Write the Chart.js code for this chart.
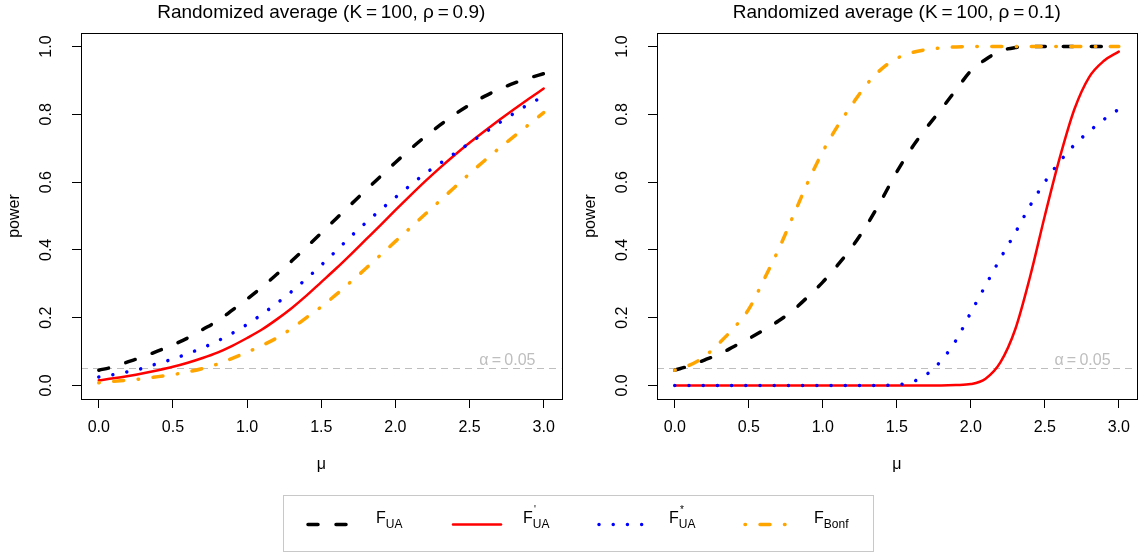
<!DOCTYPE html>
<html>
<head>
<meta charset="utf-8">
<script src="https://cdn.jsdelivr.net/npm/chart.js@4.4.0/dist/chart.umd.min.js"></script>
<style>
  body { margin: 0; width: 1140px; height: 554px; background: #fff; position: relative; overflow: hidden;
         font-family: "Liberation Sans", Arial, sans-serif; }
  canvas.plot { position: absolute; top: 0; }
  #legend { position: absolute; left: 283px; top: 495px; width: 591px; height: 57px;
            border: 1px solid #c8c8c8; box-sizing: border-box; }
  #legendKeys { position: absolute; left: 0; top: 0; }
  .lab { position: absolute; top: 13px; font-size: 16px; color: #000; white-space: nowrap; }
  .lab .sub { font-size: 12px; position: relative; top: 5px; }
  .lab .sup { font-size: 10px; position: absolute; top: -5px; left: 11px; }
</style>
</head>
<body>
<canvas id="left" class="plot" width="570" height="480" style="left:0"></canvas>
<canvas id="right" class="plot" width="564" height="480" style="left:576px"></canvas>
<div id="legend">
  <canvas id="legendKeys" width="591" height="57"></canvas>
  <div class="lab" style="left:92px">F<span class="sub">UA</span></div>
  <div class="lab" style="left:239px">F<span class="sup">'</span><span class="sub">UA</span></div>
  <div class="lab" style="left:385px">F<span class="sup">*</span><span class="sub">UA</span></div>
  <div class="lab" style="left:530px">F<span class="sub">Bonf</span></div>
</div>
<script>
// mu grid shared by every curve
const mu = [0, 0.1, 0.2, 0.3, 0.4, 0.5, 0.6, 0.7, 0.8, 0.9, 1.0, 1.1, 1.2, 1.3, 1.4, 1.5,
            1.6, 1.7, 1.8, 1.9, 2.0, 2.1, 2.2, 2.3, 2.4, 2.5, 2.6, 2.7, 2.8, 2.9, 3.0];
const xTicks = [0, 0.5, 1, 1.5, 2, 2.5, 3];
const yTicks = [0, 0.2, 0.4, 0.6, 0.8, 1];
const alphaLevel = 0.05;

// rho = 0.9
const uaHi      = [0.045, 0.055, 0.07, 0.085, 0.102, 0.12, 0.14, 0.165, 0.19, 0.222, 0.255, 0.29, 0.328, 0.367, 0.408, 0.45,
                   0.492, 0.534, 0.576, 0.617, 0.658, 0.697, 0.734, 0.768, 0.8, 0.828, 0.853, 0.874, 0.892, 0.907, 0.92];
const uaPrimeHi = [0.015, 0.021, 0.028, 0.036, 0.045, 0.055, 0.067, 0.081, 0.097, 0.117, 0.14, 0.165, 0.195, 0.228, 0.265, 0.305,
                   0.345, 0.387, 0.43, 0.473, 0.517, 0.56, 0.602, 0.642, 0.68, 0.716, 0.75, 0.783, 0.815, 0.846, 0.876];
const uaStarHi  = [0.025, 0.032, 0.041, 0.051, 0.065, 0.078, 0.094, 0.111, 0.131, 0.154, 0.18, 0.21, 0.242, 0.277, 0.315, 0.355,
                   0.397, 0.44, 0.48, 0.518, 0.555, 0.59, 0.625, 0.655, 0.685, 0.715, 0.745, 0.775, 0.803, 0.83, 0.853];
const bonfHi    = [0.008, 0.012, 0.016, 0.02, 0.026, 0.032, 0.04, 0.05, 0.063, 0.08, 0.098, 0.118, 0.14, 0.168, 0.2, 0.232,
                   0.268, 0.306, 0.345, 0.385, 0.425, 0.465, 0.505, 0.545, 0.585, 0.625, 0.663, 0.7, 0.735, 0.77, 0.805];

// rho = 0.1
const uaLo      = [0.045, 0.058, 0.075, 0.092, 0.115, 0.138, 0.163, 0.19, 0.222, 0.262, 0.305, 0.355, 0.41, 0.475, 0.55, 0.63,
                   0.7, 0.76, 0.815, 0.872, 0.928, 0.962, 0.987, 0.997, 1, 1, 1, 1, 1, 1, 1];
const uaPrimeLo = [0, 0, 0, 0, 0, 0, 0, 0, 0, 0, 0, 0, 0, 0, 0, 0,
                   0, 0, 0, 0.001, 0.004, 0.02, 0.068, 0.165, 0.32, 0.5, 0.67, 0.815, 0.91, 0.958, 0.985];
const uaStarLo  = [0, 0, 0, 0, 0, 0, 0, 0, 0, 0, 0, 0, 0, 0, 0, 0.002,
                   0.01, 0.032, 0.073, 0.133, 0.215, 0.295, 0.375, 0.45, 0.53, 0.6, 0.66, 0.71, 0.75, 0.785, 0.815];
const bonfLo    = [0.045, 0.06, 0.085, 0.125, 0.17, 0.225, 0.31, 0.4, 0.5, 0.6, 0.69, 0.765, 0.83, 0.89, 0.935, 0.965,
                   0.982, 0.991, 0.996, 0.999, 1, 1, 1, 1, 1, 1, 1, 1, 1, 1, 1];

const FONT = '"Liberation Sans", Arial, sans-serif';
const XMIN = -0.12, XMAX = 3.12, YMIN = -0.04, YMAX = 1.04;

const styles = {
  ua:      { color: '#000000', width: 3.5, dash: [10, 18] },
  uaPrime: { color: '#ff0000', width: 2.5, dash: [] },
  uaStar:  { color: '#0000ff', width: 3.5, dash: [0.01, 14.2] },
  bonf:    { color: '#ffa500', width: 3.5, dash: [0.5, 14.5, 10, 14.5] }
};

function pts(ys) {
  return mu.map((m, i) => ({ x: m, y: ys[i] }));
}

function curve(ys, st, order) {
  return {
    data: pts(ys), borderColor: st.color, borderWidth: st.width, borderDash: st.dash,
    borderCapStyle: 'round', borderJoinStyle: 'round', fill: false, order: order,
    cubicInterpolationMode: 'monotone', pointRadius: 0
  };
}

const framePlugin = {
  id: 'frame',
  afterDraw(chart, args, opts) {
    const { ctx, chartArea: a } = chart;
    const yS = chart.scales.y;
    ctx.save();
    ctx.strokeStyle = '#000';
    ctx.lineWidth = 1;
    ctx.strokeRect(Math.round(a.left) + 0.5, Math.round(a.top) + 0.5,
                   Math.round(a.right - a.left), Math.round(a.bottom - a.top));
    const cx = (a.left + a.right) / 2;
    ctx.fillStyle = '#000';
    ctx.textAlign = 'center';
    ctx.textBaseline = 'middle';
    ctx.font = '19px ' + FONT;
    ctx.fillText(opts.title, cx, 13);
    ctx.font = '16px ' + FONT;
    ctx.fillText('\u03bc', cx, 465);
    ctx.save();
    ctx.translate(15, (a.top + a.bottom) / 2);
    ctx.rotate(-Math.PI / 2);
    ctx.fillText('power', 0, 0);
    ctx.restore();
    ctx.fillStyle = '#bebebe';
    ctx.textAlign = 'right';
    ctx.textBaseline = 'alphabetic';
    ctx.fillText('\u03b1\u2009=\u20090.05', a.right - 26, yS.getPixelForValue(alphaLevel) - 4);
    ctx.restore();
  }
};

function makeChart(id, title, ua, uaPrime, uaStar, bonf, padRight) {
  return new Chart(document.getElementById(id), {
    type: 'line',
    data: {
      datasets: [
        { data: [{ x: XMIN, y: alphaLevel }, { x: XMAX, y: alphaLevel }], borderColor: '#bebebe',
          borderWidth: 1, borderDash: [7, 5], pointRadius: 0, order: 5 },
        curve(ua, styles.ua, 4),
        curve(uaPrime, styles.uaPrime, 3),
        curve(uaStar, styles.uaStar, 2),
        curve(bonf, styles.bonf, 1)
      ]
    },
    options: {
      responsive: false,
      animation: false,
      devicePixelRatio: 1,
      layout: { padding: { top: 33, right: padRight, left: 0, bottom: 0 } },
      plugins: { legend: { display: false }, tooltip: { enabled: false }, frame: { title: title } },
      scales: {
        x: {
          type: 'linear', min: XMIN, max: XMAX,
          afterBuildTicks: s => { s.ticks = xTicks.map(v => ({ value: v })); },
          afterFit: s => { s.height = 81; },
          border: { display: false },
          grid: { drawOnChartArea: false, drawTicks: true, tickLength: 9, color: '#000' },
          ticks: { color: '#000', font: { family: FONT, size: 16 }, padding: 10, maxRotation: 0,
                   autoSkip: false, callback: v => v.toFixed(1) }
        },
        y: {
          type: 'linear', min: YMIN, max: YMAX,
          afterBuildTicks: s => { s.ticks = yTicks.map(v => ({ value: v })); },
          afterFit: s => { s.width = 81; },
          border: { display: false },
          grid: { drawOnChartArea: false, drawTicks: true, tickLength: 9, color: '#000' },
          ticks: { color: '#000', font: { family: FONT, size: 16 }, padding: 14, minRotation: 90, maxRotation: 90,
                   crossAlign: 'center', autoSkip: false, callback: v => v.toFixed(1) }
        }
      }
    },
    plugins: [framePlugin]
  });
}

makeChart('left', 'Randomized average (K\u2009=\u2009100, \u03c1\u2009=\u20090.9)', uaHi, uaPrimeHi, uaStarHi, bonfHi, 8.5);
makeChart('right', 'Randomized average (K\u2009=\u2009100, \u03c1\u2009=\u20090.1)', uaLo, uaPrimeLo, uaStarLo, bonfLo, 2.5);

// legend keys
const lg = document.getElementById('legendKeys').getContext('2d');
const keyPos = [[ 'ua', 24, 64 ], [ 'uaPrime', 169, 217 ], [ 'uaStar', 315, 359 ], [ 'bonf', 461, 502 ]];
keyPos.forEach(([k, x0, x1]) => {
  const st = styles[k];
  lg.save();
  lg.strokeStyle = st.color;
  lg.lineWidth = st.width;
  lg.lineCap = 'round';
  lg.setLineDash(st.dash);
  lg.beginPath();
  lg.moveTo(x0, 28.5);
  lg.lineTo(x1, 28.5);
  lg.stroke();
  lg.restore();
});
</script>
</body>
</html>
